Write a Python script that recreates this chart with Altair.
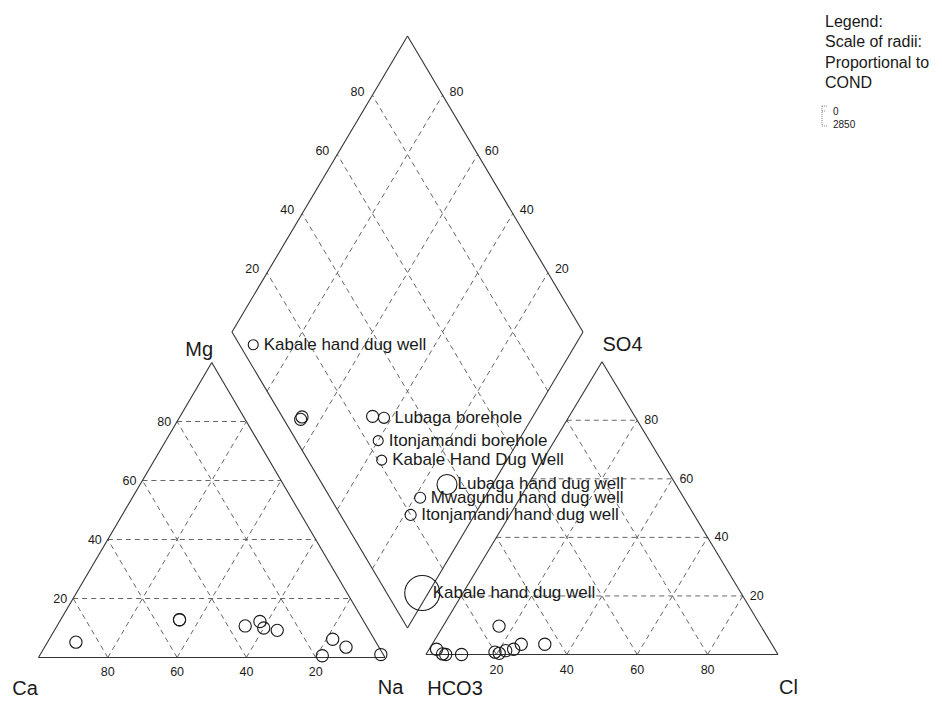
import altair as alt
import pandas as pd

# ---------------- data (percent of meq/l) ----------------
labels = ["Kabale hand dug well", "", "", "", "Lubaga borehole", "Itonjamandi borehole",
          "Kabale Hand Dug Well", "Lubaga hand dug well", "Mwagundu hand dug well",
          "Itonjamandi hand dug well", "Kabale hand dug well"]
mg = [5.2, 12.8, 12.8, 10.7, 12.2, 10.0, 9.2, 3.5, 0.6, 6.2, 1.0]
na = [8.2, 34.3, 34.3, 54.3, 57.8, 60.0, 64.3, 87.0, 81.6, 81.8, 98.3]
so4 = [1.8, 0.2, 0.0, 1.8, 3.5, 1.3, 0.4, 3.5, 9.7, 0.8, 0.0]
cl = [2.1, 4.6, 5.6, 24.0, 25.3, 22.0, 20.6, 32.0, 15.9, 19.2, 10.1]
cond = [815, 980, 990, 980, 900, 815, 815, 1630, 900, 900, 2850]
ticks = [20, 40, 60, 80]
legend_lines = ["Legend:", "Scale of radii:", "Proportional to", "COND"]
legend_scale = ["0", "2850"]

# ---------------- layout geometry (page pixels) ----------------
LX0, LY0, LW, LH = 38.5, 657.5, 346.5, 295.0      # cation triangle
RX0, RY0, RW, RH = 426.0, 654.5, 352.0, 292.8     # anion triangle
DBX, DBY = 407.5, 628.0                            # diamond bottom vertex
E1 = (-175.5, -296.0)
E2 = (175.5, -296.0)


def cat_xy(m, n):
    return LX0 + LW * (n + m / 2) / 100, LY0 - LH * m / 100


def an_xy(s, c):
    return RX0 + RW * (c + s / 2) / 100, RY0 - RH * s / 100


def dia_xy(s, r):
    return DBX + s * E1[0] + r * E2[0], DBY + s * E1[1] + r * E2[1]


def seg(p, q):
    return {"x": p[0], "y": p[1], "x2": q[0], "y2": q[1]}


# frame edges
frame = [
    seg(cat_xy(0, 0), cat_xy(0, 100)), seg(cat_xy(0, 100), cat_xy(100, 0)), seg(cat_xy(100, 0), cat_xy(0, 0)),
    seg(an_xy(0, 0), an_xy(0, 100)), seg(an_xy(0, 100), an_xy(100, 0)), seg(an_xy(100, 0), an_xy(0, 0)),
    seg(dia_xy(0, 0), dia_xy(1, 0)), seg(dia_xy(1, 0), dia_xy(1, 1)),
    seg(dia_xy(1, 1), dia_xy(0, 1)), seg(dia_xy(0, 1), dia_xy(0, 0)),
]

grid = []
for v in ticks:
    grid.append(seg(cat_xy(v, 0), cat_xy(v, 100 - v)))
    grid.append(seg(cat_xy(0, v), cat_xy(100 - v, v)))
    grid.append(seg(cat_xy(0, 100 - v), cat_xy(100 - v, 0)))
    grid.append(seg(an_xy(v, 0), an_xy(v, 100 - v)))
    grid.append(seg(an_xy(0, v), an_xy(100 - v, v)))
    grid.append(seg(an_xy(0, 100 - v), an_xy(100 - v, 0)))
    grid.append(seg(dia_xy(0, v / 100), dia_xy(1, v / 100)))
    grid.append(seg(dia_xy(v / 100, 0), dia_xy(v / 100, 1)))


def tick_df(fn):
    rows = []
    for v in ticks:
        x, y = fn(v)
        rows.append({"x": x, "y": y, "t": str(v)})
    return pd.DataFrame(rows)


mg_ticks = tick_df(lambda v: cat_xy(v, 0))
ca_ticks = tick_df(lambda v: cat_xy(0, 100 - v))
cl_ticks = tick_df(lambda v: an_xy(0, v))
so4_ticks = tick_df(lambda v: an_xy(v, 100 - v))
dl_ticks = tick_df(lambda v: dia_xy(1, v / 100))
dr_ticks = tick_df(lambda v: dia_xy(v / 100, 1))

# samples
cat_pts, an_pts, dia_pts = [], [], []
for i in range(len(labels)):
    x, y = cat_xy(mg[i], na[i])
    cat_pts.append({"x": x, "y": y})
    x, y = an_xy(so4[i], cl[i])
    an_pts.append({"x": x, "y": y})
    s = (100 - na[i]) / 100
    r = (so4[i] + cl[i]) / 100
    x, y = dia_xy(s, r)
    dia_pts.append({"x": x, "y": y, "cond": cond[i], "label": labels[i]})
tri_df = pd.DataFrame(cat_pts + an_pts)
dia_df = pd.DataFrame(dia_pts)

# corner names (vertex + offset)
v_mg = cat_xy(100, 0)
v_ca = cat_xy(0, 0)
v_na = cat_xy(0, 100)
v_so4 = an_xy(100, 0)
v_hco3 = an_xy(0, 0)
v_cl = an_xy(0, 100)
names = pd.DataFrame([
    {"x": v_mg[0] - 12.5, "y": v_mg[1] - 12.5, "t": "Mg"},
    {"x": v_ca[0] - 13.5, "y": v_ca[1] + 31.5, "t": "Ca"},
    {"x": v_na[0] + 5.5, "y": v_na[1] + 30.5, "t": "Na"},
    {"x": v_so4[0] + 20.5, "y": v_so4[1] - 16.5, "t": "SO4"},
    {"x": v_hco3[0] + 29.0, "y": v_hco3[1] + 34.0, "t": "HCO3"},
    {"x": v_cl[0] + 10.5, "y": v_cl[1] + 33.0, "t": "Cl"},
])

LEGX, LEGY = 825, 27
leg_df = pd.DataFrame([{"x": LEGX, "y": LEGY + 20.3 * i, "t": t} for i, t in enumerate(legend_lines)])
leg_scale_df = pd.DataFrame([{"x": LEGX + 8, "y": 112 + 12.5 * i, "t": t} for i, t in enumerate(legend_scale)])
bracket = pd.DataFrame([
    seg((822, 106), (822, 126)),
    seg((822, 106), (827, 106)),
    seg((822, 111), (826, 111)),
    seg((822, 126), (828, 126)),
])

# ---------------- chart ----------------
W, H = 926, 691
xs = alt.Scale(domain=[8, 8 + W], nice=False, zero=False)
ys = alt.Scale(domain=[8, 8 + H], nice=False, zero=False, reverse=True)
X = alt.X("x:Q", scale=xs, axis=None)
Y = alt.Y("y:Q", scale=ys, axis=None)
FONT = "Liberation Sans"
INK = "#1a1a1a"

frame_l = alt.Chart(pd.DataFrame(frame)).mark_rule(color="#333333", strokeWidth=1.1).encode(
    x=X, y=Y, x2="x2:Q", y2="y2:Q")
grid_l = alt.Chart(pd.DataFrame(grid)).mark_rule(color="#555555", strokeWidth=0.9, strokeDash=[5, 4]).encode(
    x=X, y=Y, x2="x2:Q", y2="y2:Q")


def tlayer(df, **kw):
    return alt.Chart(df).mark_text(font=FONT, fontSize=12.5, color=INK, baseline="middle", **kw).encode(
        x=X, y=Y, text="t:N")


ticks_l = [
    tlayer(mg_ticks, align="right", dx=-6),
    tlayer(ca_ticks, align="center", dy=14),
    tlayer(cl_ticks, align="center", dy=15.5),
    tlayer(so4_ticks, align="left", dx=7),
    tlayer(dl_ticks, align="right", dx=-8, dy=-3.5),
    tlayer(dr_ticks, align="left", dx=7, dy=-3.5),
]

names_l = alt.Chart(names).mark_text(font=FONT, fontSize=20, color=INK, baseline="middle", align="center").encode(
    x=X, y=Y, text="t:N")

tri_pts_l = alt.Chart(tri_df).mark_point(shape="circle", size=150, filled=False, color=INK, strokeWidth=1.1,
                                         opacity=1).encode(x=X, y=Y)
dia_pts_l = alt.Chart(dia_df).mark_point(shape="circle", filled=False, color=INK, strokeWidth=1.1,
                                         opacity=1).encode(
    x=X, y=Y,
    size=alt.Size("cond:Q", scale=alt.Scale(type="pow", exponent=2, domain=[0, 2850], range=[0, 1225]),
                  legend=None))
dia_lab_l = alt.Chart(dia_df).mark_text(font=FONT, fontSize=17, color=INK, baseline="middle", align="left",
                                        dx=10.5).encode(x=X, y=Y, text="label:N")

leg_l = alt.Chart(leg_df).mark_text(font=FONT, fontSize=16, color=INK, baseline="alphabetic", align="left").encode(
    x=X, y=Y, text="t:N")
leg_scale_l = alt.Chart(leg_scale_df).mark_text(font=FONT, fontSize=10, color=INK, baseline="middle",
                                                align="left").encode(x=X, y=Y, text="t:N")
bracket_l = alt.Chart(bracket).mark_rule(color="#666666", strokeWidth=0.8, strokeDash=[1, 1]).encode(
    x=X, y=Y, x2="x2:Q", y2="y2:Q")

chart = alt.layer(grid_l, frame_l, *ticks_l, names_l, tri_pts_l, dia_pts_l, dia_lab_l,
                  leg_l, leg_scale_l, bracket_l).properties(
    width=W, height=H, padding=0, background="white", autosize=alt.AutoSizeParams(type="none")
).configure_view(strokeWidth=0, stroke="transparent")

chart.save("out.html", embed_options={"renderer": "svg", "actions": False})
